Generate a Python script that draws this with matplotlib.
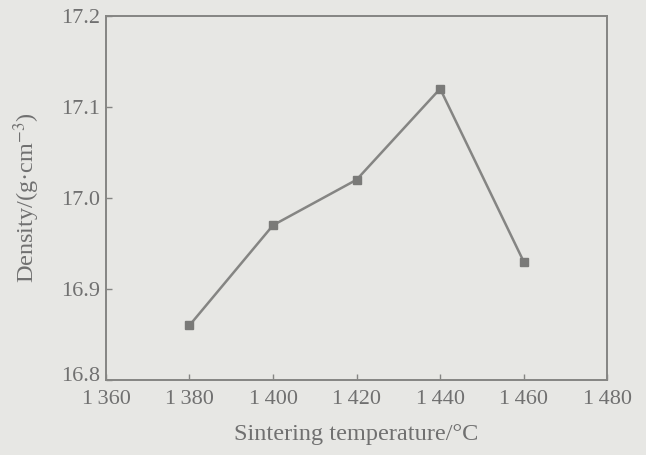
import matplotlib
matplotlib.use('Agg')
import matplotlib.pyplot as plt
from matplotlib.transforms import ScaledTranslation

temps = [1380, 1400, 1420, 1440, 1460]
density = [16.86, 16.97, 17.02, 17.12, 16.93]
xticks = [1360, 1380, 1400, 1420, 1440, 1460, 1480]
yticks = [16.8, 16.9, 17.0, 17.1, 17.2]

plt.rcParams['font.family'] = ['Liberation Serif', 'DejaVu Serif']
plt.rcParams['mathtext.fontset'] = 'stix'

bg = '#e7e7e4'
ink = '#858583'
txt = '#707070'

fig = plt.figure(figsize=(6.46, 4.55), dpi=100, facecolor=bg)
ax = fig.add_axes([0.164, 0.165, 0.776, 0.800], facecolor=bg)

ax.plot(temps, density, color=ink, lw=1.8, marker='s', ms=5.5, mfc='#7a7a78', mec='#7a7a78')

ax.set_xlim(1360, 1480)
ax.set_ylim(16.8, 17.2)
ax.set_xticks(xticks)
ax.set_xticklabels([str(t)[0] + '\u2009' + str(t)[1:] for t in xticks])
ax.set_yticks(yticks)
ax.set_yticklabels(['%.1f' % v for v in yticks])
ax.tick_params(direction='in', length=4, width=1, colors=ink, labelsize=16, labelcolor=txt)
ax.tick_params(axis='x', pad=7)
ax.tick_params(axis='y', pad=4)
for s in ax.spines.values():
    s.set_color(ink)
    s.set_linewidth(1.4)

# the lowest y label sits a little above the axis in the original
lab = ax.get_yticklabels()[0]
lab.set_transform(lab.get_transform() + ScaledTranslation(0, 4 / 72, fig.dpi_scale_trans))

ax.set_xlabel('Sintering temperature/\u00b0C', fontsize=17.5, color=txt, labelpad=11)
ax.set_ylabel('Density/(g\u00b7cm$^{-3}$)', fontsize=17.5, color=txt, labelpad=14)

fig.savefig('out.png', dpi=100, facecolor=bg)
